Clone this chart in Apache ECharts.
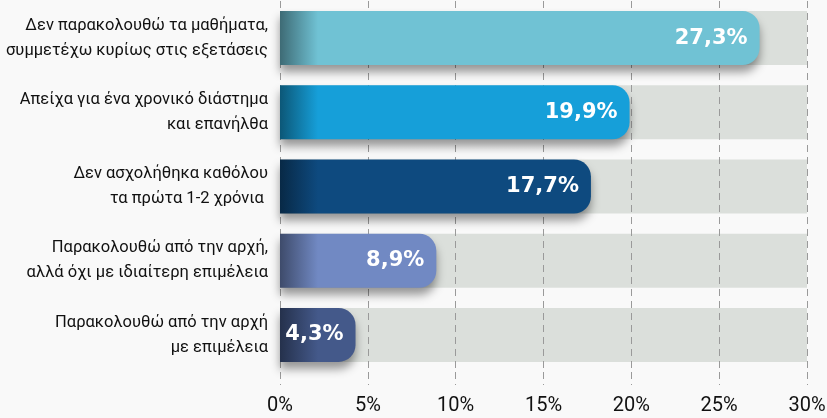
<!DOCTYPE html>
<html>
<head>
<meta charset="utf-8">
<script src="https://cdn.jsdelivr.net/npm/echarts@6/dist/echarts.min.js"></script>
<style>
html,body{margin:0;padding:0;background:#f9f9f9;}
#main{width:827px;height:418px;}
</style>
</head>
<body>
<div id="main"></div>
<script>
// κατηγορίες (από πάνω προς τα κάτω)
var categories = [
	'Δεν παρακολουθώ τα μαθήματα,\nσυμμετέχω κυρίως στις εξετάσεις',
	'Απείχα για ένα χρονικό διάστημα\nκαι επανήλθα',
	'Δεν ασχολήθηκα καθόλου\nτα πρώτα 1-2 χρόνια ',
	'Παρακολουθώ από την αρχή,\nαλλά όχι με ιδιαίτερη επιμέλεια',
	'Παρακολουθώ από την αρχή\nμε επιμέλεια'
];
var values = [27.3, 19.9, 17.7, 8.9, 4.3];
var barColors = ['#70c2d4', '#169fd9', '#0e4a7f', '#7189c3', '#44598a'];
var tickLabels = ['0%', '5%', '10%', '15%', '20%', '25%', '30%'];
var axisMax = 30;

var myChart = echarts.init(document.getElementById('main'));

// σκουραίνει ένα hex χρώμα
function darken(hex, k){
	var n = parseInt(hex.slice(1), 16);
	var r = Math.round(((n >> 16) & 255) * k);
	var g = Math.round(((n >> 8) & 255) * k);
	var b = Math.round((n & 255) * k);
	return 'rgb(' + r + ',' + g + ',' + b + ')';
}

// σκούρο στην αρχή της μπάρας
function barFill(c){
	return {
		type: 'linear', x: 280, y: 0, x2: 318, y2: 0, global: true,
		colorStops: [
			{offset: 0, color: darken(c, 0.55)},
			{offset: 1, color: c}
		]
	};
}

var option = {
	backgroundColor: '#f9f9f9',
	animation: false,
	grid: {left: 280, right: 20, top: 1, bottom: 46, containLabel: false, outerBoundsMode: 'none'},
	xAxis: {
		type: 'value',
		min: 0,
		max: axisMax,
		interval: 5,
		axisLine: {show: false},
		axisTick: {show: true, length: 13, lineStyle: {color: '#9a9a9a', type: [7, 5]}},
		axisLabel: {
			margin: 24,
			fontFamily: 'Roboto',
			fontSize: 20,
			color: '#111',
			formatter: function(v){ return tickLabels[v / 5]; }
		},
		splitLine: {show: true, lineStyle: {color: '#9a9a9a', type: [7, 5]}},
		z: 0
	},
	yAxis: {
		type: 'category',
		inverse: true,
		data: categories,
		axisLine: {show: false},
		axisTick: {show: false},
		axisLabel: {
			margin: 12,
			fontFamily: 'Roboto',
			fontSize: 16.5,
			lineHeight: 25,
			color: '#111',
			align: 'right'
		}
	},
	series: [{
		// γκρι φόντο κάτω από τις γραμμές πλέγματος
		type: 'bar',
		barWidth: 54,
		z: -1,
		silent: true,
		itemStyle: {color: '#dbdfdb'},
		data: values.map(function(){ return axisMax; })
	}, {
		type: 'bar',
		barWidth: 54,
		barGap: '-100%',
		z: 2,
		data: values.map(function(v, i){
			return {
				value: v,
				itemStyle: {color: barFill(barColors[i])}
			};
		}),
		itemStyle: {
			borderRadius: [0, 17, 17, 0],
			shadowColor: 'rgba(0,0,0,0.4)',
			shadowBlur: 10,
			shadowOffsetY: 7
		},
		label: {
			show: true,
			position: 'insideRight',
			distance: 12,
			color: '#fff',
			fontFamily: 'DejaVu Sans',
			fontWeight: 'bold',
			fontSize: 21,
			formatter: function(p){ return p.value.toFixed(1).replace('.', ',') + '%'; }
		}
	}]
};
myChart.setOption(option);
</script>
</body>
</html>
